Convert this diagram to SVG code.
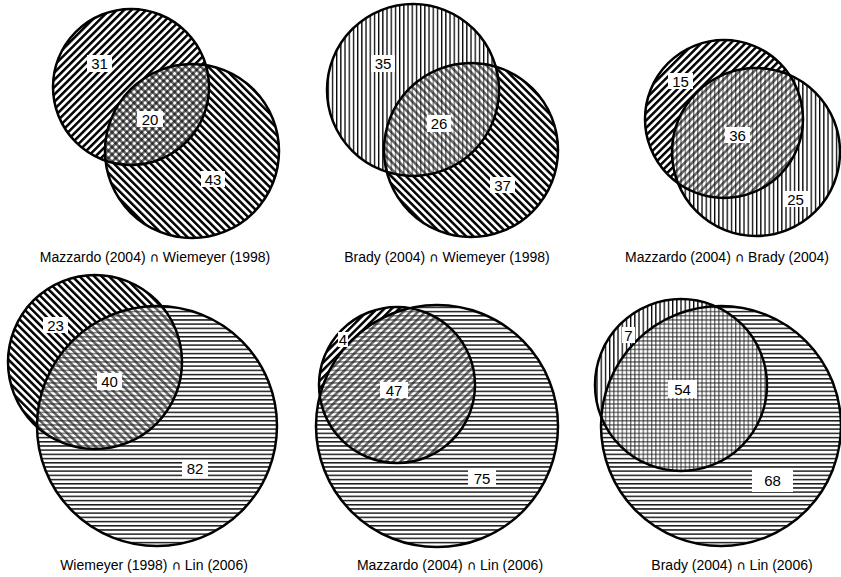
<svg xmlns="http://www.w3.org/2000/svg" width="841" height="577" viewBox="0 0 841 577">
<style>
.o{fill:none;stroke:#000;stroke-width:2.5}
.w{fill:#fff}
.h{opacity:0.6}
.lb{fill:#fff}
.t{font-family:"Liberation Sans",Arial,sans-serif;font-size:15px;fill:#000;text-anchor:middle}
.ti{font-family:"Liberation Sans",Arial,sans-serif;font-size:14px;fill:#000;text-anchor:middle}
.cap{font-family:"DejaVu Sans",sans-serif;font-size:13px}
</style>
<defs>
<pattern id="pM" patternUnits="userSpaceOnUse" width="5.2" height="10" patternTransform="rotate(45)"><rect x="0" y="0" width="2.5" height="10" fill="#000"/></pattern>
<pattern id="pW" patternUnits="userSpaceOnUse" width="5.2" height="10" patternTransform="rotate(-45)"><rect x="0" y="0" width="2.5" height="10" fill="#000"/></pattern>
<pattern id="pB" patternUnits="userSpaceOnUse" width="4.2" height="10"><rect x="0" y="0" width="1.3" height="10" fill="#000"/></pattern>
<pattern id="pL" patternUnits="userSpaceOnUse" width="10" height="4.2"><rect x="0" y="0" width="10" height="1.5" fill="#1a1a1a"/></pattern>
<clipPath id="c1"><circle cx="131" cy="87" r="78"/></clipPath>
<clipPath id="c2"><circle cx="413" cy="90" r="86"/></clipPath>
<clipPath id="c3"><circle cx="724" cy="119" r="79"/></clipPath>
<clipPath id="c4"><circle cx="95" cy="362" r="87"/></clipPath>
<clipPath id="c5"><circle cx="397" cy="385" r="78"/></clipPath>
<clipPath id="c6"><circle cx="681" cy="385" r="86"/></clipPath>
</defs>

<g id="venn1">
<circle cx="131" cy="87" r="78" fill="#fff"/>
<circle cx="131" cy="87" r="78" fill="url(#pM)"/>
<circle cx="192" cy="151" r="87" fill="#fff"/>
<circle cx="192" cy="151" r="87" fill="url(#pW)"/>
<g clip-path="url(#c1)">
<circle cx="192" cy="151" r="87" class="w"/>
<circle cx="192" cy="151" r="87" fill="url(#pM)" class="h"/>
<circle cx="192" cy="151" r="87" fill="url(#pW)" class="h"/>
</g>
<circle cx="131" cy="87" r="78" class="o"/>
<circle cx="192" cy="151" r="87" class="o"/>
<rect class="lb" x="87" y="55" width="25" height="17"/><text class="t" x="99.5" y="69">31</text>
<rect class="lb" x="137" y="111" width="26" height="16"/><text class="t" x="150" y="124.5">20</text>
<rect class="lb" x="201" y="171" width="24" height="16"/><text class="t" x="213" y="184.5">43</text>
<text class="ti" x="155" y="262">Mazzardo (2004) <tspan class="cap">∩</tspan> Wiemeyer (1998)</text>
</g>

<g id="venn2">
<circle cx="413" cy="90" r="86" fill="#fff"/>
<circle cx="413" cy="90" r="86" fill="url(#pB)"/>
<circle cx="471" cy="150" r="87" fill="#fff"/>
<circle cx="471" cy="150" r="87" fill="url(#pW)"/>
<g clip-path="url(#c2)">
<circle cx="471" cy="150" r="87" class="w"/>
<circle cx="471" cy="150" r="87" fill="url(#pB)" class="h"/>
<circle cx="471" cy="150" r="87" fill="url(#pW)" class="h"/>
</g>
<circle cx="413" cy="90" r="86" class="o"/>
<circle cx="471" cy="150" r="87" class="o"/>
<rect class="lb" x="371" y="55" width="24" height="17"/><text class="t" x="383" y="69">35</text>
<rect class="lb" x="427" y="115" width="24" height="17"/><text class="t" x="439" y="129">26</text>
<rect class="lb" x="490" y="177" width="25" height="16"/><text class="t" x="502.5" y="190.5">37</text>
<text class="ti" x="447" y="262">Brady (2004) <tspan class="cap">∩</tspan> Wiemeyer (1998)</text>
</g>

<g id="venn3">
<circle cx="724" cy="119" r="79" fill="#fff"/>
<circle cx="724" cy="119" r="79" fill="url(#pM)"/>
<circle cx="756" cy="152" r="84" fill="#fff"/>
<circle cx="756" cy="152" r="84" fill="url(#pB)"/>
<g clip-path="url(#c3)">
<circle cx="756" cy="152" r="84" class="w"/>
<circle cx="756" cy="152" r="84" fill="url(#pM)" class="h"/>
<circle cx="756" cy="152" r="84" fill="url(#pB)" class="h"/>
</g>
<circle cx="724" cy="119" r="79" class="o"/>
<circle cx="756" cy="152" r="84" class="o"/>
<rect class="lb" x="668" y="73" width="25" height="16"/><text class="t" x="680.5" y="86.5">15</text>
<rect class="lb" x="725" y="127" width="25" height="16"/><text class="t" x="737.5" y="140.5">36</text>
<rect class="lb" x="783" y="191" width="25" height="16"/><text class="t" x="795.5" y="204.5">25</text>
<text class="ti" x="727" y="262">Mazzardo (2004) <tspan class="cap">∩</tspan> Brady (2004)</text>
</g>

<g id="venn4">
<circle cx="95" cy="362" r="87" fill="#fff"/>
<circle cx="95" cy="362" r="87" fill="url(#pW)"/>
<circle cx="157" cy="426" r="120" fill="#fff"/>
<circle cx="157" cy="426" r="120" fill="url(#pL)"/>
<g clip-path="url(#c4)">
<circle cx="157" cy="426" r="120" class="w"/>
<circle cx="157" cy="426" r="120" fill="url(#pW)" class="h"/>
<circle cx="157" cy="426" r="120" fill="url(#pL)" class="h"/>
</g>
<circle cx="95" cy="362" r="87" class="o"/>
<circle cx="157" cy="426" r="120" class="o"/>
<rect class="lb" x="43" y="317" width="25" height="16"/><text class="t" x="55.5" y="330.5">23</text>
<rect class="lb" x="97" y="373" width="25" height="17"/><text class="t" x="109.5" y="387">40</text>
<rect class="lb" x="182" y="460" width="26" height="17"/><text class="t" x="195" y="474">82</text>
<text class="ti" x="154" y="570">Wiemeyer (1998) <tspan class="cap">∩</tspan> Lin (2006)</text>
</g>

<g id="venn5">
<circle cx="397" cy="385" r="78" fill="#fff"/>
<circle cx="397" cy="385" r="78" fill="url(#pM)"/>
<circle cx="437" cy="426" r="121" fill="#fff"/>
<circle cx="437" cy="426" r="121" fill="url(#pL)"/>
<g clip-path="url(#c5)">
<circle cx="437" cy="426" r="121" class="w"/>
<circle cx="437" cy="426" r="121" fill="url(#pM)" class="h"/>
<circle cx="437" cy="426" r="121" fill="url(#pL)" class="h"/>
</g>
<circle cx="397" cy="385" r="78" class="o"/>
<circle cx="437" cy="426" r="121" class="o"/>
<rect class="lb" x="338" y="332" width="10" height="15"/><text class="t" x="343" y="344.5">4</text>
<rect class="lb" x="380" y="382" width="28" height="16"/><text class="t" x="394" y="395.5">47</text>
<rect class="lb" x="468" y="470" width="28" height="17"/><text class="t" x="482" y="484">75</text>
<text class="ti" x="450" y="570">Mazzardo (2004) <tspan class="cap">∩</tspan> Lin (2006)</text>
</g>

<g id="venn6">
<circle cx="681" cy="385" r="86" fill="#fff"/>
<circle cx="681" cy="385" r="86" fill="url(#pB)"/>
<circle cx="721" cy="426" r="120" fill="#fff"/>
<circle cx="721" cy="426" r="120" fill="url(#pL)"/>
<g clip-path="url(#c6)">
<circle cx="721" cy="426" r="120" class="w"/>
<circle cx="721" cy="426" r="120" fill="url(#pB)" class="h"/>
<circle cx="721" cy="426" r="120" fill="url(#pL)" class="h"/>
</g>
<circle cx="681" cy="385" r="86" class="o"/>
<circle cx="721" cy="426" r="120" class="o"/>
<rect class="lb" x="622" y="327" width="13" height="16"/><text class="t" x="628.5" y="340.5">7</text>
<rect class="lb" x="668" y="380" width="29" height="18"/><text class="t" x="682.5" y="394.5">54</text>
<rect class="lb" x="752" y="468" width="41" height="24"/><text class="t" x="772.5" y="485.5">68</text>
<text class="ti" x="732" y="570">Brady (2004) <tspan class="cap">∩</tspan> Lin (2006)</text>
</g>
<g id="connectors"/>
</svg>
